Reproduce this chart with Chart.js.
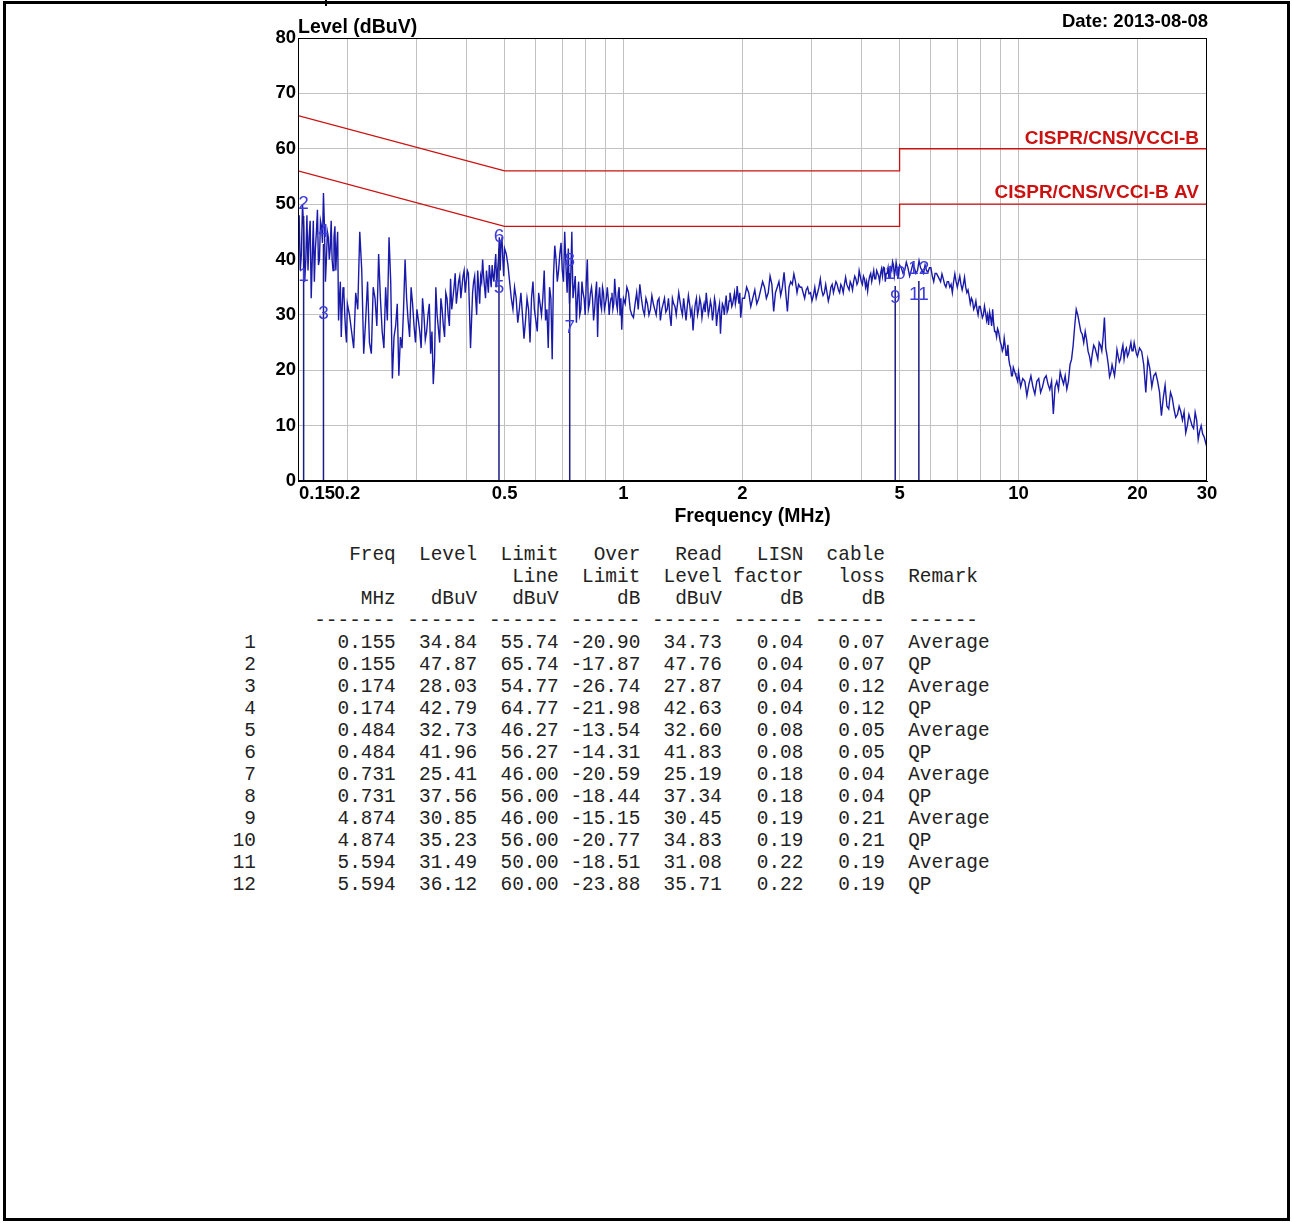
<!DOCTYPE html>
<html>
<head>
<meta charset="utf-8">
<title>Conducted emission - Level vs Frequency</title>
<script src="https://cdn.jsdelivr.net/npm/chart.js@4.4.1/dist/chart.umd.min.js"></script>
<style>
  html, body { margin: 0; padding: 0; background: #fff; }
  body { width: 1292px; height: 1223px; position: relative; overflow: hidden; }
  #plot { position: absolute; left: 0; top: 0; }
  #tbl {
    position: absolute; left: 232.7px; top: 544px; margin: 0;
    font-family: 'Liberation Mono', 'Courier New', monospace;
    font-size: 19.42px; line-height: 22px; color: #222;
  }
  #frame {
    position: absolute; left: 3px; top: 1px; width: 1287px; height: 1220px;
    box-sizing: border-box; border: 3px solid #000; pointer-events: none;
  }
  #notch { position: absolute; left: 325px; top: 0; width: 2px; height: 6px; background: #000; }
</style>
</head>
<body>
<canvas id="plot" width="1292" height="540"></canvas>
<pre id="tbl"></pre>
<div id="frame"></div>
<div id="notch"></div>
<script>
// ---- Scan trace (MHz / dBuV), one pair of arrays per sweep band ----
// Each band has a coarse grid and an offset grid between its points.
const freqA = [0.150,0.152,0.154,0.156,0.158,0.160,0.162,0.164,0.166,0.168,0.170,0.172,0.174,0.176,0.178,0.180,0.182,0.184,0.186,0.188,0.190,0.192,0.194,0.196,0.198,0.200];
const levelA = [45,38,50,36,48,44,33,47,42,49,40,46,52,36,45,40,47,38,46,42,29,36,31,34,27,32];
const freqA2 = [0.151,0.153,0.155,0.157,0.159,0.161,0.163,0.165,0.167,0.169,0.171,0.173,0.175,0.177,0.179,0.181,0.183,0.185,0.187,0.189,0.191,0.193,0.195,0.197,0.199];
const levelA2 = [48,41,46,40,38,47,40,36,45,39,47,43,46,40,44,42,40,44,38,45,33,26,35,30,25];

const freqB = [0.205,0.210,0.215,0.220,0.225,0.230,0.235,0.240,0.245,0.250,0.255,0.260,0.265,0.270,0.275,0.280,0.285,0.290,0.295,0.300,
               0.305,0.310,0.315,0.320,0.325,0.330,0.335,0.340,0.345,0.350,0.355,0.360,0.365,0.370,0.375,0.380,0.385,0.390,0.395,0.400,
               0.405,0.410,0.415,0.420,0.425,0.430,0.435,0.440,0.445,0.450,0.455,0.460,0.465,0.470,0.475,0.480,0.485,0.490,0.495,0.500];
const levelB = [27,34,45,23,36,23,33,41,27,35,44,18.5,28,19,24,40,29,35,28,31,
                27,33,25.5,30,23,17.5,35,27.5,33,28,34,30,36.5,33,37.5,34,37,35,38,36,
                37.5,24,34,37,30,35,37,40,35,38,34,37,39,36,41,38,44,43.5,40,42];
const freqB2 = [0.2025,0.2075,0.2125,0.2175,0.2225,0.2275,0.2325,0.2375,0.2425,0.2475,0.2525,0.2575,0.2625,0.2675,0.2725,0.2775,0.2825,0.2875,0.2925,0.2975,
                0.3025,0.3075,0.3125,0.3175,0.3225,0.3275,0.3325,0.3375,0.3425,0.3475,0.3525,0.3575,0.3625,0.3675,0.3725,0.3775,0.3825,0.3875,0.3925,0.3975,
                0.4025,0.4075,0.4125,0.4175,0.4225,0.4275,0.4325,0.4375,0.4425,0.4475,0.4525,0.4575,0.4625,0.4675,0.4725,0.4775,0.4825,0.4875,0.4925,0.4975];
const levelB2 = [30,24,31,38,29,25,35,28,33,24,29,36,26,32,26,31,33,26,32,25,
                 29,24,30,27,32,27,22,30,25,31,26,33,28,31,35,32,36,33,37,34,
                 38,31,29,36,33,38,32,36,37,33,36,39,35,37,39,35,40,38,44,37];

const freqC = [0.51,0.52,0.53,0.54,0.55,0.56,0.57,0.58,0.59,0.60,0.61,0.62,0.63,0.64,0.65,0.66,0.67,0.68,0.69,0.70,
               0.71,0.72,0.73,0.74,0.75,0.76,0.77,0.78,0.79,0.80,0.81,0.82,0.83,0.84,0.85,0.86,0.87,0.88,0.89,0.90,
               0.91,0.92,0.93,0.94,0.95,0.96,0.97,0.98,0.99,1.00];
const levelC = [39,33,35,28.6,34,25.7,33,25,36,29,34,30,38,31,35,22,42.5,36,41,38,
                45,34,32,45,35,28.6,36,31,34,30,40,32,35,29,34,26,35,31,34,32,
                35,30,33,31,36.5,32,34,30,27.3,33];
const freqC2 = [0.505,0.515,0.525,0.535,0.545,0.555,0.565,0.575,0.585,0.595,0.605,0.615,0.625,0.635,0.645,0.655,0.665,0.675,0.685,0.695,
                0.705,0.715,0.725,0.735,0.745,0.755,0.765,0.775,0.785,0.795,0.805,0.815,0.825,0.835,0.845,0.855,0.865,0.875,0.885,0.895,
                0.905,0.915,0.925,0.935,0.945,0.955,0.965,0.975,0.985,0.995];
const levelC2 = [41,36,31,33,31,30,29,31,33,31,27,32,33,29,24,33,37,40,38,43,
                 36,39,42,36,33,37,33,30,36,33,36,31,34,33,31,36,33,32,35,31,
                 33,33,32,34,32,34,31,35,33,31];

const freqD = [1.02,1.04,1.06,1.08,1.10,1.12,1.14,1.16,1.18,1.20,1.22,1.24,1.26,1.28,1.30,1.32,1.34,1.36,1.38,1.40,
               1.42,1.44,1.46,1.48,1.50,1.52,1.54,1.56,1.58,1.60,1.62,1.64,1.66,1.68,1.70,1.72,1.74,1.76,1.78,1.80,
               1.82,1.84,1.86,1.88,1.90,1.92,1.94,1.96,1.98,2.00];
const levelD = [35,31,29.5,34,35.5,31,33,30,33.5,31,32.5,29,32,30.5,33,28,32,30,34,31,
                33,29,33.5,30,27.2,32,30,33,29.5,32,34,30,32.5,29,33,28,31,26.6,32,30,
                33.5,31,34,31.5,33,32,35.2,32,29.5,33];
const freqD2 = [1.01,1.03,1.05,1.07,1.09,1.11,1.13,1.15,1.17,1.19,1.21,1.23,1.25,1.27,1.29,1.31,1.33,1.35,1.37,1.39,
                1.41,1.43,1.45,1.47,1.49,1.51,1.53,1.55,1.57,1.59,1.61,1.63,1.65,1.67,1.69,1.71,1.73,1.75,1.77,1.79,
                1.81,1.83,1.85,1.87,1.89,1.91,1.93,1.95,1.97,1.99];
const levelD2 = [32,34,30,32,31,33,30,32,31,32,30,33,31,33,31,30,33,31.5,32,32.5,
                 30,31,31.5,32,31,30,33,31,32,31,30.5,32,31,31.5,30.5,32,30,32,30,31.5,
                 32,30.5,32.5,33,32,34,33,33.5,34,31];

const freqE = [2.05,2.10,2.15,2.20,2.25,2.30,2.35,2.40,2.45,2.50,2.55,2.60,2.65,2.70,2.75,2.80,2.85,2.90,2.95,3.00,
               3.05,3.10,3.15,3.20,3.25,3.30,3.35,3.40,3.45,3.50,3.55,3.60,3.65,3.70,3.75,3.80,3.85,3.90,3.95,4.00,
               4.05,4.10,4.15,4.20,4.25,4.30,4.35,4.40,4.45,4.50,4.55,4.60,4.65,4.70,4.75,4.80,4.85,4.90,4.95,5.00];
const levelE = [35,31.5,34.5,33,36,33,37,30.6,35,33.5,37.7,30.6,36,37.4,34,35,34,34.5,33.8,32.5,
                35,34,36.5,33.5,35.5,32.5,35,34,36,34.5,35.5,34,36.8,35,36,34.5,37,35.5,38,36,
                37,35,34.3,37,36,38,36.5,37.5,36,38.3,38.6,36,37.5,36.5,38.5,39.6,37,39.5,36.5,39];
const freqE2 = [2.025,2.075,2.125,2.175,2.225,2.275,2.325,2.375,2.425,2.475,2.525,2.575,2.625,2.675,2.725,2.775,2.825,2.875,2.925,2.975,
                3.025,3.075,3.125,3.175,3.225,3.275,3.325,3.375,3.425,3.475,3.525,3.575,3.625,3.675,3.725,3.775,3.825,3.875,3.925,3.975,
                4.025,4.075,4.125,4.175,4.225,4.275,4.325,4.375,4.425,4.475,4.525,4.575,4.625,4.675,4.725,4.775,4.825,4.875,4.925,4.975];
const levelE2 = [33,34,33,32,34.5,35,34,35.5,34,36,35,34,35,35.5,36,35.5,35,33,35,34,
                 33.5,33,35,34.5,34,34,33.5,35.5,35,35.5,34,35,35.5,35.5,34.5,35.5,36,36.5,36,37,
                 35.5,36.5,36,36,37.5,37,36.5,38,37,37.5,37,38.5,37.5,38.5,37.5,38,39,38,38.5,37.5];

const freqF = [5.1,5.2,5.3,5.4,5.5,5.6,5.7,5.8,5.9,6.0,6.1,6.2,6.3,6.4,6.5,6.6,6.7,6.8,6.9,7.0,
               7.1,7.2,7.3,7.4,7.5,7.6,7.7,7.8,7.9,8.0,8.1,8.2,8.3,8.4,8.5,8.6,8.7,8.8,8.9,9.0,
               9.1,9.2,9.3,9.4,9.5,9.6,9.7,9.8,9.9,10.0];
const levelF = [37.5,39.5,37,39.2,37.5,39.8,38,39,37.7,38.5,36,37.5,36.5,37.4,35.5,36,35,34,37.4,35,
                37,34.5,36.8,34,33.4,33,31,32.5,30,31.5,29.5,31.6,29,28.2,29.5,31,27,26,27,25,
                23.5,25.8,22.7,24.6,21,19,20.5,19.5,18.5,19.7];
const freqF2 = [5.05,5.15,5.25,5.35,5.45,5.55,5.65,5.75,5.85,5.95,6.05,6.15,6.25,6.35,6.45,6.55,6.65,6.75,6.85,6.95,
                7.05,7.15,7.25,7.35,7.45,7.55,7.65,7.75,7.85,7.95,8.05,8.15,8.25,8.35,8.45,8.55,8.65,8.75,8.85,8.95,
                9.05,9.15,9.25,9.35,9.45,9.55,9.65,9.75,9.85,9.95];
const levelF2 = [38.5,38,38.5,38,38.5,38,38.5,37.5,38,38.5,37,37.5,37,36,36.5,35,36,35.5,36,36,
                 36,35.5,35.5,35,34.5,32,32.5,31.5,31,31.5,30.5,30,30.5,30,30.5,28,28.5,27,27.5,26,
                 24.5,24,24.5,23,22,20.5,19,20,19,18];

const freqG = [10.25,10.5,10.75,11.0,11.25,11.5,11.75,12.0,12.25,12.5,12.75,13.0,13.25,13.5,13.75,14.0,14.25,14.5,14.75,15.0,
               15.25,15.5,15.75,16.0,16.25,16.5,16.75,17.0,17.25,17.5,17.75,18.0,18.25,18.5,18.75,19.0,19.25,19.5,19.75,20.0,
               20.5,21.0,21.5,22.0,22.5,23.0,23.5,24.0,24.5,25.0,25.5,26.0,26.5,27.0,27.5,28.0,28.5,29.0,29.5,30.0];
const levelG = [18.5,15.4,19,15.7,18.5,17,19,16.5,12.1,18,19.7,17.5,16.6,21,24.5,31,28.5,26.5,27,23.4,
                21,24.5,23,25,23.5,29.5,22.7,18.8,21,19,23.7,21.5,23.5,22,24,23,25,23.5,24,22.5,
                23.4,16,20.3,19,18,11.8,17.3,13,15,11.5,13.5,11,8.7,12,10,12.4,7.5,10,8,6];
const freqG2 = [10.125,10.375,10.625,10.875,11.125,11.375,11.625,11.875,12.125,12.375,12.625,12.875,13.125,13.375,13.625,13.875,14.125,14.375,14.625,14.875,
                15.125,15.375,15.625,15.875,16.125,16.375,16.625,16.875,17.125,17.375,17.625,17.875,18.125,18.375,18.625,18.875,19.125,19.375,19.625,19.875,
                20.25,20.75,21.25,21.75,22.25,22.75,23.25,23.75,24.25,24.75,25.25,25.75,26.25,26.75,27.25,27.75,28.25,28.75,29.25,29.75];
const levelG2 = [17,18,17.5,17,18,16,18.5,17.5,18,17,16.5,18.5,19,18,22,28,30,27,25,25.5,
                 22.5,23,24,22,24.5,26,24,21,19.5,20,21,22.5,22,24.5,23.5,22.5,24,23.5,25,23,
                 24,21,22,17,19.5,16,15,13.5,16,13,12,12.5,12.5,10,11,9.5,11,9,8.5,7];

const traceFreq = [].concat(freqA, freqA2, freqB, freqB2, freqC, freqC2, freqD, freqD2, freqE, freqE2, freqF, freqF2, freqG, freqG2);
const traceLevel = [].concat(levelA, levelA2, levelB, levelB2, levelC, levelC2, levelD, levelD2, levelE, levelE2, levelF, levelF2, levelG, levelG2);

// ---- Limit lines ----
const limitFreq = [0.15, 0.5, 5, 5, 30];
const qpLimit = [66, 56, 56, 60, 60];
const avLimit = [56, 46, 46, 50, 50];
const qpLimitName = 'CISPR/CNS/VCCI-B';
const avLimitName = 'CISPR/CNS/VCCI-B AV';

// ---- Final measurement markers ----
const markerNo = [1,2,3,4,5,6,7,8,9,10,11,12];
const markerFreq = [0.155,0.155,0.174,0.174,0.484,0.484,0.731,0.731,4.874,4.874,5.594,5.594];
const markerLevel = [34.84,47.87,28.03,42.79,32.73,41.96,25.41,37.56,30.85,35.23,31.49,36.12];
const markerLimit = [55.74,65.74,54.77,64.77,46.27,56.27,46.00,56.00,46.00,56.00,50.00,60.00];
const markerOver = [-20.90,-17.87,-26.74,-21.98,-13.54,-14.31,-20.59,-18.44,-15.15,-20.77,-18.51,-23.88];
const markerRead = [34.73,47.76,27.87,42.63,32.60,41.83,25.19,37.34,30.45,34.83,31.08,35.71];
const markerLisn = [0.04,0.04,0.04,0.04,0.08,0.08,0.18,0.18,0.19,0.19,0.22,0.22];
const markerCable = [0.07,0.07,0.12,0.12,0.05,0.05,0.04,0.04,0.21,0.21,0.19,0.19];
const markerRemark = ['Average','QP','Average','QP','Average','QP','Average','QP','Average','QP','Average','QP'];

// ---- Axis ticks ----
const xGridFreqs = [0.2,0.3,0.4,0.5,0.6,0.7,0.8,0.9,1,2,3,4,5,6,7,8,9,10,20];
const xTickValues = [0.15,0.2,0.5,1,2,5,10,20,30];
const xTickLabels = ['0.15','0.2','0.5','1','2','5','10','20','30'];
const yTickValues = [0,10,20,30,40,50,60,70,80];
const testDate = 'Date: 2013-08-08';

const FONT = "'Liberation Sans', Arial, Helvetica, sans-serif";

// trace points in frequency order
const tracePoints = traceFreq
  .map((f, i) => ({x: f, y: traceLevel[i]}))
  .sort((p, q) => p.x - q.x);

// vertical stems at each marker frequency, up to the QP reading
const stemPoints = [];
markerFreq.forEach((f, i) => {
  if (markerRemark[i] === 'QP') {
    stemPoints.push({x: f, y: 0}, {x: f, y: markerLevel[i]}, {x: f, y: null});
  }
});

const overlay = {
  id: 'overlay',
  afterDatasetsDraw(chart) {
    const {ctx, chartArea: a, scales: {x, y}} = chart;
    ctx.save();
    // plot frame
    ctx.strokeStyle = '#000';
    ctx.lineWidth = 1;
    ctx.strokeRect(a.left + 0.5, a.top + 0.5, a.right - a.left - 1, a.bottom - a.top - 1);

    // limit line names
    ctx.font = `bold 19px ${FONT}`;
    ctx.fillStyle = '#cc1111';
    ctx.textAlign = 'right';
    ctx.textBaseline = 'alphabetic';
    ctx.fillText(qpLimitName, a.right - 8, y.getPixelForValue(qpLimit[qpLimit.length - 1]) - 5);
    ctx.fillText(avLimitName, a.right - 8, y.getPixelForValue(avLimit[avLimit.length - 1]) - 6);

    // marker numbers
    ctx.font = `19px ${FONT}`;
    ctx.fillStyle = '#3d3dde';
    ctx.textAlign = 'center';
    ctx.textBaseline = 'middle';
    markerNo.forEach((n, i) => {
      ctx.fillText(String(n), x.getPixelForValue(markerFreq[i]), y.getPixelForValue(markerLevel[i] + 2.2));
    });
    ctx.restore();
  },
  afterDraw(chart) {
    const {ctx, chartArea: a, scales: {x}} = chart;
    ctx.save();
    ctx.fillStyle = '#000';
    // frequency tick labels
    ctx.font = `bold 18.5px ${FONT}`;
    ctx.textBaseline = 'alphabetic';
    xTickValues.forEach((v, i) => {
      ctx.textAlign = i === 0 ? 'left' : 'center';
      const px = x.getPixelForValue(v) + (i === 0 ? 1 : 0);
      ctx.fillText(xTickLabels[i], px, a.bottom + 18);
    });
    // header texts
    ctx.font = `bold 19.5px ${FONT}`;
    ctx.textAlign = 'left';
    ctx.fillText('Level (dBuV)', a.left, a.top - 5);
    ctx.font = `bold 18.5px ${FONT}`;
    ctx.textAlign = 'right';
    ctx.fillText(testDate, a.right + 1, a.top - 11);
    ctx.restore();
  }
};

new Chart(document.getElementById('plot'), {
  type: 'line',
  data: {
    datasets: [
      {
        label: 'Stems', data: stemPoints, order: 0,
        borderColor: '#1c1c82', borderWidth: 1.5, pointRadius: 0, spanGaps: false
      },
      {
        label: 'Level', order: 1, data: tracePoints,
        borderColor: '#1a1aaa', borderWidth: 1.4, pointRadius: 0, tension: 0
      },
      {
        label: qpLimitName, order: 2,
        data: limitFreq.map((f, i) => ({x: f, y: qpLimit[i]})),
        borderColor: '#cc1111', borderWidth: 1.3, pointRadius: 0
      },
      {
        label: avLimitName, order: 3,
        data: limitFreq.map((f, i) => ({x: f, y: avLimit[i]})),
        borderColor: '#cc1111', borderWidth: 1.3, pointRadius: 0
      }
    ]
  },
  options: {
    responsive: false,
    animation: false,
    devicePixelRatio: 1,
    layout: { padding: { left: 250, top: 38, right: 85, bottom: 12 } },
    plugins: { legend: { display: false }, tooltip: { enabled: false } },
    scales: {
      x: {
        type: 'logarithmic', min: 0.15, max: 30,
        afterBuildTicks: s => { s.ticks = xGridFreqs.map(v => ({value: v})); },
        afterFit: s => { s.height = 47; },
        grid: { color: '#c2c2c2', lineWidth: 1, drawTicks: false },
        border: { color: '#000', width: 1 },
        ticks: { display: false },
        title: {
          display: true, text: 'Frequency (MHz)', color: '#000', padding: 0,
          font: { family: FONT, size: 19.4, weight: 'bold' }
        }
      },
      y: {
        min: 0, max: 80,
        afterBuildTicks: s => { s.ticks = yTickValues.map(v => ({value: v})); },
        afterFit: s => { s.width = 48; },
        grid: { color: '#c2c2c2', lineWidth: 1, drawTicks: false },
        border: { color: '#000', width: 1 },
        ticks: { color: '#000', padding: 2, font: { family: FONT, size: 18.5, weight: 'bold' } }
      }
    }
  },
  plugins: [overlay]
});

// ---- Result table ----
const colWidths = [2, 12, 7, 7, 7, 7, 7, 7];
function tableLine(cells, remark) {
  let s = cells.map((c, i) => String(c).padStart(colWidths[i])).join('');
  if (remark) s += '  ' + remark;
  return s;
}
const headerRows = [
  [['', 'Freq', 'Level', 'Limit', 'Over', 'Read', 'LISN', 'cable'], ''],
  [['', '', '', 'Line', 'Limit', 'Level', 'factor', 'loss'], 'Remark'],
  [['', 'MHz', 'dBuV', 'dBuV', 'dB', 'dBuV', 'dB', 'dB'], ''],
  [['', '-------', '------', '------', '------', '------', '------', '------'], '------']
];
const lines = headerRows.map(r => tableLine(r[0], r[1]));
markerNo.forEach((n, i) => {
  lines.push(tableLine([
    n, markerFreq[i].toFixed(3), markerLevel[i].toFixed(2), markerLimit[i].toFixed(2),
    markerOver[i].toFixed(2), markerRead[i].toFixed(2), markerLisn[i].toFixed(2), markerCable[i].toFixed(2)
  ], markerRemark[i]));
});
document.getElementById('tbl').textContent = lines.join('\n');
</script>
</body>
</html>
